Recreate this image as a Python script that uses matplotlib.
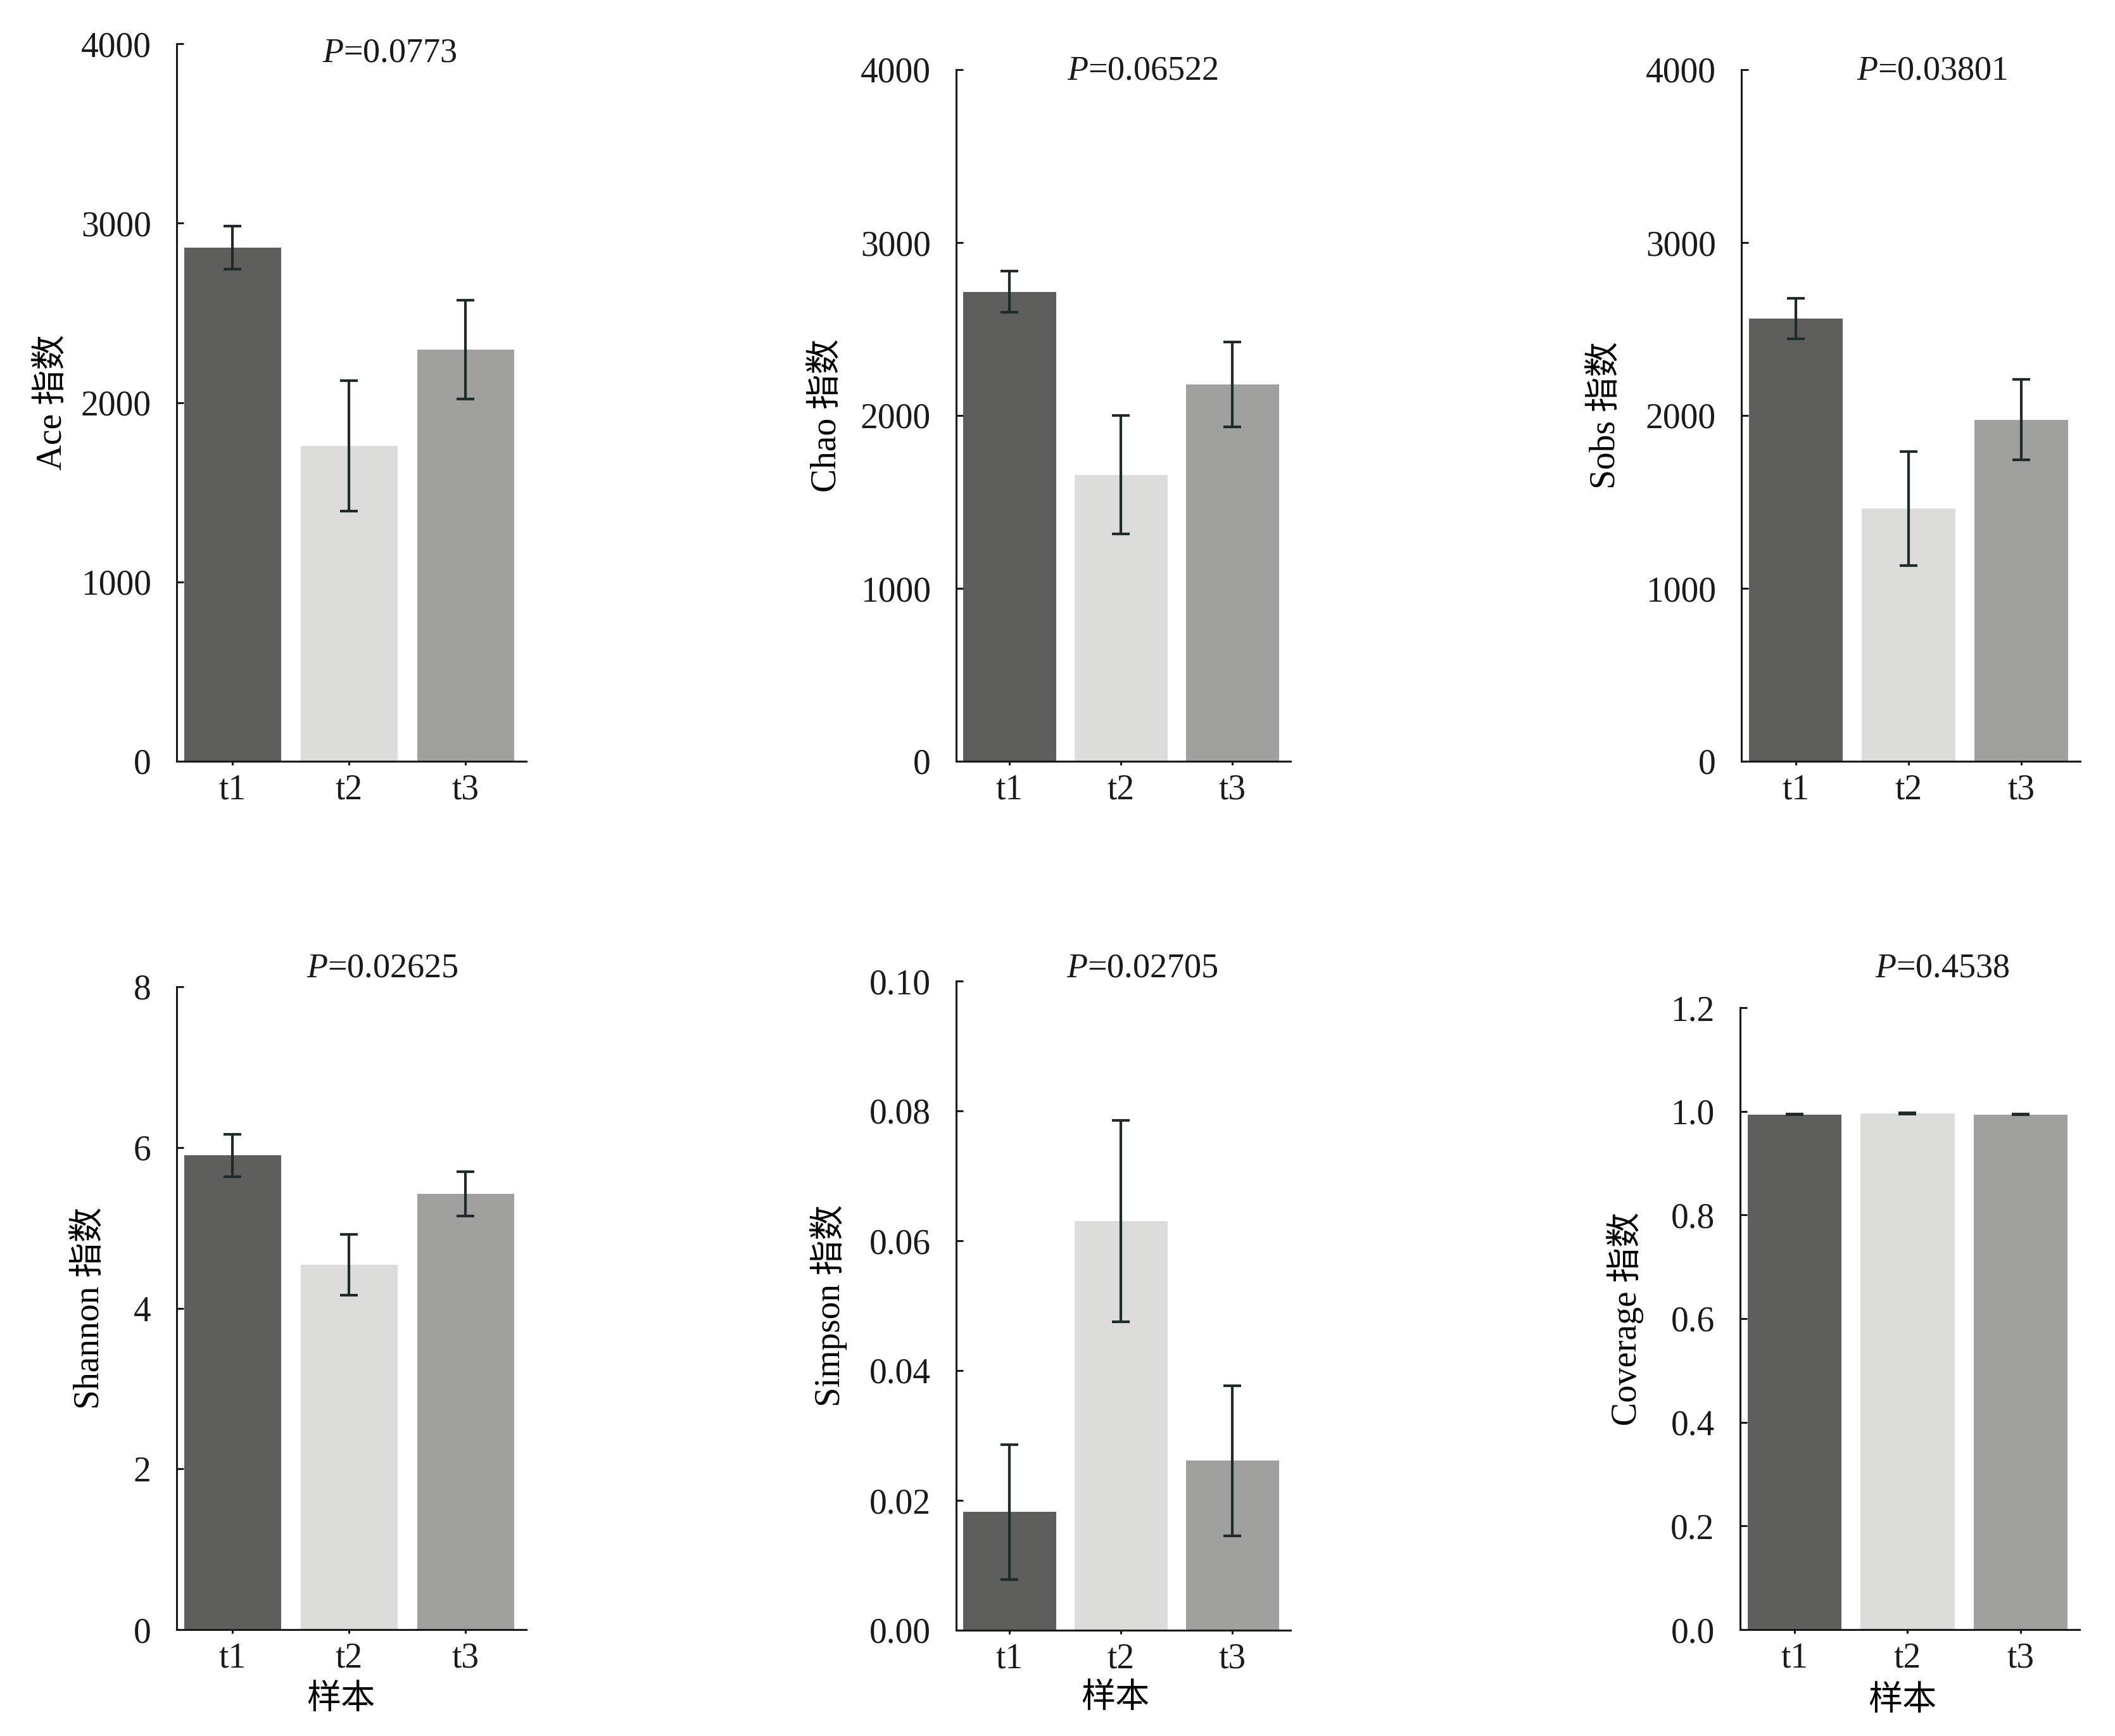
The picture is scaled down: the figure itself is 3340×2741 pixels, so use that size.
import matplotlib
matplotlib.use('Agg')
import matplotlib.pyplot as plt
from matplotlib.ticker import FormatStrFormatter

plt.rcParams['font.family'] = ['Liberation Serif', 'Noto Sans CJK SC']
plt.rcParams['mathtext.fontset'] = 'custom'
plt.rcParams['mathtext.it'] = 'Liberation Serif:italic'
plt.rcParams['mathtext.rm'] = 'Liberation Serif'

samples = ['t1', 't2', 't3']

ace_mean = [2863, 1758, 2295]
ace_err = [121, 363, 275]
chao_mean = [2716, 1657, 2180]
chao_err = [118, 342, 245]
sobs_mean = [2560, 1462, 1975]
sobs_err = [117, 330, 232]
shannon_mean = [5.90, 4.54, 5.42]
shannon_err = [0.265, 0.375, 0.275]
simpson_mean = [0.0182, 0.0630, 0.0261]
simpson_err = [0.0104, 0.0155, 0.0116]
coverage_mean = [0.994, 0.996, 0.994]
coverage_err = [0.0006, 0.0008, 0.0007]

index_names = ['Ace', 'Chao', 'Sobs', 'Shannon', 'Simpson', 'Coverage']
p_values = ['0.0773', '0.06522', '0.03801', '0.02625', '0.02705', '0.4538']
means = [ace_mean, chao_mean, sobs_mean, shannon_mean, simpson_mean, coverage_mean]
errors = [ace_err, chao_err, sobs_err, shannon_err, simpson_err, coverage_err]
y_ticks = [
    [0, 1000, 2000, 3000, 4000],
    [0, 1000, 2000, 3000, 4000],
    [0, 1000, 2000, 3000, 4000],
    [0, 2, 4, 6, 8],
    [0, 0.02, 0.04, 0.06, 0.08, 0.10],
    [0, 0.2, 0.4, 0.6, 0.8, 1.0, 1.2],
]
y_formats = ['%d', '%d', '%d', '%d', '%.2f', '%.1f']

bar_colors = ['#5e5e5c', '#dcdcda', '#a0a09e']
err_color = '#1f2a2a'

W, H = 3341, 2741
# axes boxes in pixels: left, right, top, bottom
boxes = [
    (279, 831, 69, 1202),
    (1510, 2038, 110, 1202),
    (2750, 3285, 110, 1202),
    (279, 831, 1558, 2573),
    (1510, 2038, 1549, 2574),
    (2748, 3284, 1591, 2573),
]
ylabel_x = [82, 1305, 2535, 141, 1309, 2567]
p_pos = [(615, 84), (1804, 112), (3051, 112), (604, 1529), (1804, 1529), (3067, 1529)]
xlabel_pos = [(538, 2685), (1761, 2683), (3004, 2687)]

fig = plt.figure(figsize=(W / 100, H / 100), dpi=100)

for i in range(6):
    l, r, t, b = boxes[i]
    ax = fig.add_axes([l / W, 1 - b / H, (r - l) / W, (b - t) / H])
    x = range(len(samples))
    ax.bar(x, means[i], width=0.83, color=bar_colors, zorder=1)
    ax.errorbar(x, means[i], yerr=errors[i], fmt='none', ecolor=err_color,
                elinewidth=3, capsize=10, capthick=3, zorder=2)
    ax.set_xlim(-0.48, 2.52)
    ax.set_ylim(y_ticks[i][0], y_ticks[i][-1])
    ax.set_yticks(y_ticks[i])
    ax.yaxis.set_major_formatter(FormatStrFormatter(y_formats[i]))
    ax.set_xticks(list(x))
    ax.set_xticklabels(samples)
    for s in ['top', 'right']:
        ax.spines[s].set_visible(False)
    for s in ['left', 'bottom']:
        ax.spines[s].set_linewidth(2.2)
        ax.spines[s].set_color('#1a1a1a')
    ax.tick_params(axis='y', direction='in', length=8, width=2.2, pad=29,
                   labelsize=40, colors='#1a1a1a')
    ax.tick_params(axis='x', direction='out', length=4, width=2.2, pad=10,
                   labelsize=40, colors='#1a1a1a')
    ax.set_ylabel(index_names[i] + ' 指数', fontsize=40, va='center')
    ax.yaxis.set_label_coords(ylabel_x[i] / W, 1 - ((t + b) / 2) / H,
                              transform=fig.transFigure)
    if i >= 3:
        ax.set_xlabel('样本', fontsize=39, va='center')
        xp, yp = xlabel_pos[i - 3]
        ax.xaxis.set_label_coords(xp / W, 1 - yp / H, transform=fig.transFigure)
    px, py = p_pos[i]
    fig.text(px / W, 1 - py / H, '$P$=' + p_values[i], fontsize=39,
             ha='center', va='center', color='#1a1a1a')

fig.savefig('out.png', dpi=100, facecolor='white')
